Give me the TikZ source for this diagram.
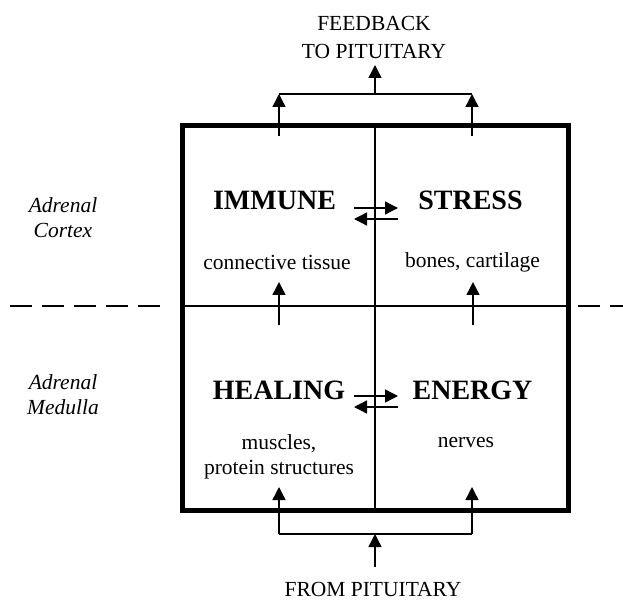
\documentclass[tikz,border=0pt]{standalone}
\usepackage{fontspec}
\setmainfont{Liberation Serif}
\usetikzlibrary{arrows.meta}

\begin{document}
\begin{tikzpicture}[x=1pt,y=-1pt,
  frame/.style={line width=5pt},
  divider/.style={line width=2.5pt},
  link/.style={line width=1.4pt},
  arr/.style={link,-{Triangle[width=13pt,length=13pt]}},
  title/.style={font=\fontsize{28}{30}\selectfont\bfseries},
  organ/.style={font=\fontsize{21.5}{25}\selectfont,align=center},
  zone/.style={font=\fontsize{21.5}{25}\selectfont\itshape,align=center}]
\useasboundingbox (0,0) rectangle (623,601);

\draw[frame] (182.5,125.5) rectangle (568.5,510);
\draw[divider] (375,125.5) -- (375,510);
\draw[divider] (182.5,306) -- (568.5,306);
\draw[link,dash pattern=on 22pt off 10pt] (10,306) -- (162,306);
\draw[link,dash pattern=on 22pt off 10pt] (578,306) -- (623,306);

\node[zone] (cortex) at (63,217.5) {Adrenal\\Cortex};
\node[zone] (medulla) at (63,394.5) {Adrenal\\Medulla};

\node[title] (immune) at (274.5,200) {IMMUNE};
\node[title] (stress) at (470.5,200) {STRESS};
\node[title] (healing) at (279,390) {HEALING};
\node[title] (energy) at (472.5,390) {ENERGY};

\node[organ] (conn) at (277,262) {connective tissue};
\node[organ] (bones) at (472.5,262) {bones, cartilage};
\node[organ] (muscles) at (279,457) {muscles,\\protein structures};
\node[organ] (nerves) at (466,443) {nerves};

\node[organ,font=\fontsize{21.5}{28}\selectfont] (feedback) at (374,37) {FEEDBACK\\TO PITUITARY};
\node[organ] (frompit) at (373,589) {FROM PITUITARY};

% feedback to the pituitary
\coordinate (fbL) at (279,136);
\coordinate (fbR) at (472,136);
\coordinate (fbLjoin) at (279,94);
\coordinate (fbRjoin) at (472,94);
\coordinate (fbmid) at (375,94);
\coordinate (fbtip) at (375,65);
\draw[arr] (fbL) -- (fbLjoin);
\draw[arr] (fbR) -- (fbRjoin);
\draw[link] (fbLjoin) -- (fbRjoin);
\draw[arr] (fbmid) -- (fbtip);

% cortex <-> cortex, medulla <-> medulla
\coordinate (ca) at (354,208);
\coordinate (cb) at (398,208);
\coordinate (cc) at (398,219);
\coordinate (cd) at (354,219);
\draw[arr] (ca) -- (cb);
\draw[arr] (cc) -- (cd);
\coordinate (ma) at (354,396);
\coordinate (mb) at (398,396);
\coordinate (mc) at (398,407);
\coordinate (md) at (354,407);
\draw[arr] (ma) -- (mb);
\draw[arr] (mc) -- (md);

% medulla up to cortex
\coordinate (upL) at (279,325);
\coordinate (upLtip) at (279,282);
\coordinate (upR) at (473,325);
\coordinate (upRtip) at (473,282);
\draw[arr] (upL) -- (upLtip);
\draw[arr] (upR) -- (upRtip);

% from the pituitary
\coordinate (inL) at (279,534);
\coordinate (inR) at (472,534);
\coordinate (inLtip) at (279,487);
\coordinate (inRtip) at (472,487);
\coordinate (inmid) at (375,534);
\coordinate (infoot) at (375,567);
\draw[link] (inL) -- (inR);
\draw[arr] (inL) -- (inLtip);
\draw[arr] (inR) -- (inRtip);
\draw[arr] (infoot) -- (inmid);
\end{tikzpicture}
\end{document}
